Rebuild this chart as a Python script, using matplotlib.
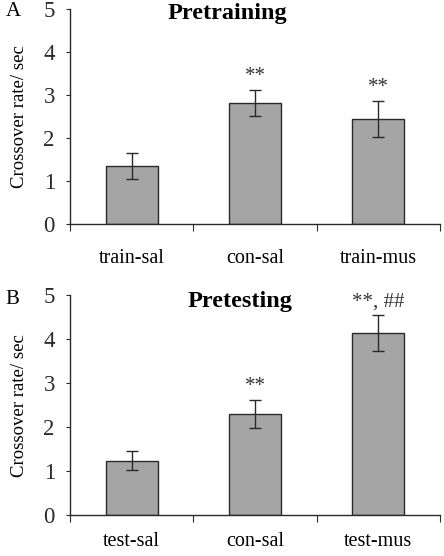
import numpy as np
import matplotlib
matplotlib.use("Agg")
import matplotlib.pyplot as plt

plt.rcParams['font.family'] = ['Liberation Serif', 'DejaVu Serif']

# panel A
groups_a = ["train-sal", "con-sal", "train-mus"]
means_a = [1.35, 2.82, 2.44]
errs_a = [0.30, 0.30, 0.42]
marks_a = ["", "**", "**"]

# panel B
groups_b = ["test-sal", "con-sal", "test-mus"]
means_b = [1.24, 2.30, 4.14]
errs_b = [0.22, 0.32, 0.40]
marks_b = ["", "**", "**, ##"]

bar_color = "#a5a5a5"
edge = "#2a2a2a"

fig = plt.figure(figsize=(4.44, 5.56), dpi=100)


def panel(rect, groups, means, errs, marks, title, title_x, title_y, xpad):
    ax = fig.add_axes(rect)
    x = np.arange(len(groups))
    ax.bar(x, means, width=0.42, color=bar_color, edgecolor=edge, linewidth=1.0, zorder=2)
    ax.errorbar(x, means, yerr=errs, fmt='none', ecolor=edge, elinewidth=1.0,
                capsize=4, capthick=1.0, zorder=3)
    for xi, m, e, s in zip(x, means, errs, marks):
        if s:
            ax.annotate(s, (xi, m + e), xytext=(0, 3), textcoords='offset points',
                        ha='center', va='bottom', fontsize=15, color="#333333")
    ax.set_xlim(-0.5, 2.5)
    ax.set_ylim(0, 5)
    ax.set_yticks(range(6))
    ax.tick_params(axis='y', labelsize=16.5, length=3, width=0.8, pad=8, colors=edge)
    ax.set_xticks(x)
    ax.set_xticklabels(groups, fontsize=14.5)
    ax.tick_params(axis='x', length=0, pad=xpad)
    ax.set_xticks([-0.5, 0.5, 1.5, 2.5], minor=True)
    ax.tick_params(axis='x', which='minor', length=5, width=0.8, direction='out', colors=edge)
    for sp in ['top', 'right']:
        ax.spines[sp].set_visible(False)
    for sp in ['left', 'bottom']:
        ax.spines[sp].set_color(edge)
        ax.spines[sp].set_linewidth(1.0)
    ax.set_ylabel("Crossover rate/ sec", fontsize=13.5)
    ax.yaxis.set_label_coords(-0.114, 0.5)
    ax.text(title_x, title_y, title, transform=ax.transAxes, ha='center', va='center',
            fontsize=17.5, fontweight='bold')
    return ax


panel([0.158, 0.597, 0.833, 0.387], groups_a, means_a, errs_a, marks_a,
      "Pretraining", 0.424, 0.98, 18)
panel([0.158, 0.0732, 0.833, 0.396], groups_b, means_b, errs_b, marks_b,
      "Pretesting", 0.46, 0.973, 12)

fig.text(0.012, 1 - 12 / 556, "A", fontsize=15, va='center', ha='left')
fig.text(0.012, 1 - 300 / 556, "B", fontsize=15, va='center', ha='left')

fig.savefig("out.png", dpi=100)
